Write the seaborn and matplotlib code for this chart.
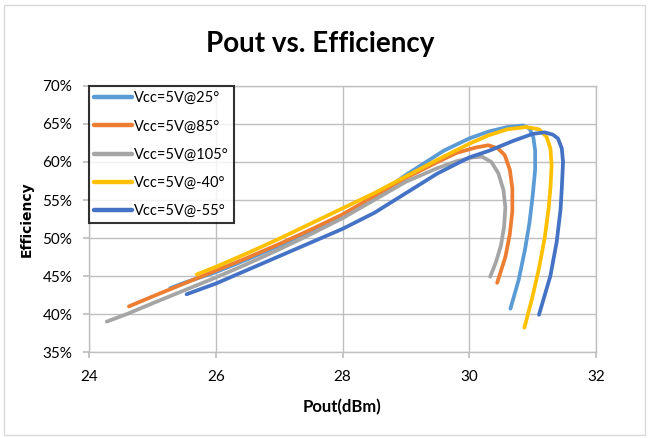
import pandas as pd
import matplotlib.pyplot as plt
import seaborn as sns
from matplotlib.patches import Rectangle
from matplotlib.ticker import PercentFormatter

# valores (Pout em dBm, eficiência em %)
pout_25 = [25.28, 25.5, 26.0, 26.5, 27.0, 27.5, 28.0, 28.5, 29.0, 29.3, 29.6, 30.0, 30.3, 30.6,
           30.85, 30.95, 31.01, 31.04, 31.04, 31.0, 30.95, 30.88, 30.78, 30.65]
eff_25 = [43.4, 44.1, 45.5, 47.2, 49.0, 50.9, 53.0, 55.3, 58.3, 59.9, 61.5, 63.1, 64.0, 64.6,
          64.8, 64.4, 63.3, 61.5, 59.0, 55.5, 52.0, 48.5, 44.5, 40.7]

pout_85 = [24.63, 25.0, 25.5, 26.0, 26.5, 27.0, 27.5, 28.0, 28.5, 29.0, 29.5, 29.8, 30.1, 30.3,
           30.45, 30.56, 30.64, 30.68, 30.68, 30.64, 30.57, 30.44]
eff_85 = [41.0, 42.3, 44.0, 45.7, 47.4, 49.2, 51.1, 53.1, 55.5, 57.9, 60.0, 61.2, 61.9, 62.2,
          61.8, 60.9, 59.0, 56.5, 53.5, 50.5, 47.5, 44.1]

pout_105 = [24.28, 24.6, 25.0, 25.5, 26.0, 26.5, 27.0, 27.5, 28.0, 28.5, 29.0, 29.5, 29.8, 30.05,
            30.2, 30.35, 30.46, 30.54, 30.57, 30.55, 30.5, 30.42, 30.33]
eff_105 = [39.0, 40.0, 41.4, 43.1, 44.8, 46.6, 48.5, 50.5, 52.6, 55.0, 57.4, 59.2, 60.1, 60.6,
           60.7, 60.0, 58.5, 56.3, 54.0, 51.5, 49.0, 46.8, 44.9]

pout_m40 = [25.7, 26.0, 26.5, 27.0, 27.5, 28.0, 28.5, 29.0, 29.5, 30.0, 30.3, 30.6, 30.9, 31.1,
            31.22, 31.28, 31.3, 31.28, 31.25, 31.19, 31.1, 30.99, 30.87]
eff_m40 = [45.2, 46.2, 48.0, 49.9, 51.9, 53.9, 55.9, 58.1, 60.3, 62.4, 63.5, 64.3, 64.6, 64.3,
           63.3, 61.8, 59.5, 56.5, 53.7, 50.0, 46.0, 42.0, 38.2]

pout_m55 = [25.54, 26.0, 26.5, 27.0, 27.5, 28.0, 28.5, 29.0, 29.5, 30.0, 30.32, 30.7, 31.0, 31.19,
            31.32, 31.4, 31.46, 31.48, 31.46, 31.44, 31.38, 31.28, 31.1]
eff_m55 = [42.6, 44.0, 45.8, 47.6, 49.4, 51.2, 53.3, 55.9, 58.5, 60.6, 61.5, 62.8, 63.7, 63.9,
           63.6, 63.1, 61.8, 60.0, 56.5, 53.7, 49.5, 45.0, 39.9]

series_names = ["Vcc=5V@25°", "Vcc=5V@85°", "Vcc=5V@105°", "Vcc=5V@-40°", "Vcc=5V@-55°"]
series_colors = ["#5B9BD5", "#ED7D31", "#A5A5A5", "#FFC000", "#4472C4"]

x_ticks = [24, 26, 28, 30, 32]
y_ticks = [35, 40, 45, 50, 55, 60, 65, 70]

frames = []
for name, xs, ys in zip(series_names,
                        [pout_25, pout_85, pout_105, pout_m40, pout_m55],
                        [eff_25, eff_85, eff_105, eff_m40, eff_m55]):
    frames.append(pd.DataFrame({"Pout": xs, "Efficiency": ys, "serie": name}))
df = pd.concat(frames, ignore_index=True)

sns.set_theme(style="white")
plt.rcParams["font.family"] = ["Lato", "DejaVu Sans"]
plt.rcParams["text.color"] = "black"
plt.rcParams["axes.labelcolor"] = "black"

fig = plt.figure(figsize=(6.49, 4.38), dpi=100)
ax = fig.add_axes([89 / 649, 1 - 352 / 438, 507 / 649, 266 / 438])

sns.lineplot(data=df, x="Pout", y="Efficiency", hue="serie", hue_order=series_names,
             palette=dict(zip(series_names, series_colors)), sort=False,
             estimator=None, units="serie", linewidth=2.7, ax=ax)

ax.set_xlim(24, 32)
ax.set_ylim(35, 70)
ax.set_xticks(x_ticks)
ax.set_yticks(y_ticks)
ax.yaxis.set_major_formatter(PercentFormatter(decimals=0))
ax.grid(True, color="#BFBFBF", linewidth=1)
ax.set_axisbelow(True)
for s in ax.spines.values():
    s.set_color("#BFBFBF")
    s.set_linewidth(1)
ax.tick_params(axis="both", labelsize=11, labelcolor="black", length=4,
               direction="out", bottom=True, left=True, color="#BFBFBF")
ax.tick_params(axis="x", pad=9)
ax.tick_params(axis="y", pad=8)

ax.set_xlabel("Pout(dBm)", fontsize=12, fontweight="bold", labelpad=11)
ax.set_ylabel("Efficiency", fontsize=10, fontweight="bold", labelpad=6,
              family="DejaVu Sans")
fig.text(0.493, 0.9, "Pout vs. Efficiency", fontsize=20, fontweight="bold",
         ha="center", va="center")

leg = ax.legend(loc="upper left", fontsize=10.5, frameon=True, fancybox=False,
                borderaxespad=0, handlelength=2.6, handletextpad=0.15,
                labelspacing=0.98, borderpad=0.35)
leg.get_frame().set_edgecolor("black")
leg.get_frame().set_linewidth(1.5)
for line in leg.get_lines():
    line.set_linewidth(3.2)

# moldura externa do gráfico (estilo Excel)
fig.patches.append(Rectangle((4 / 649, 3 / 438), 641 / 649, 430 / 438, transform=fig.transFigure,
                             fill=False, edgecolor="#D9D9D9", linewidth=1))

plt.savefig("out.png", dpi=100)
plt.close()
